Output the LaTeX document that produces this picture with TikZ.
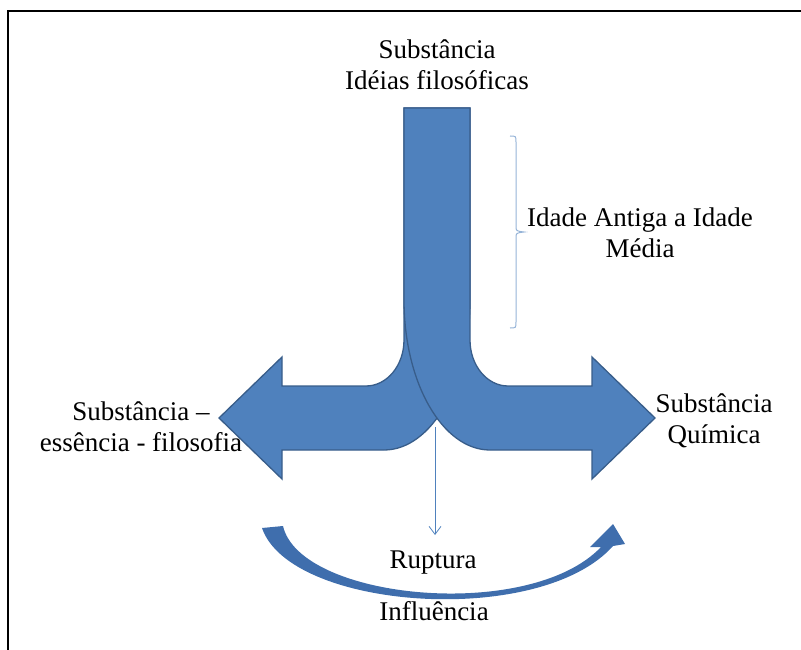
\documentclass[tikz,border=0pt]{standalone}
\usepackage{fontspec}
\setmainfont{Liberation Serif}
\usetikzlibrary{arrows.meta}
\definecolor{shapefill}{HTML}{4F81BD}
\definecolor{shapeline}{HTML}{385D8A}
\definecolor{bracecol}{HTML}{95B3D7}
\definecolor{curvefill}{HTML}{3F6EAD}
\begin{document}
\begin{tikzpicture}[x=1pt,y=-1pt,
  lbl/.style={font=\fontsize{27}{31.5}\selectfont, inner sep=0pt, align=center},
  bigarrow/.style={fill=shapefill, draw=shapeline, line width=1.3pt, line join=miter},
  thinarrow/.style={draw=shapefill, line width=0.8pt, -{Straight Barb[length=8pt,width=12pt]}},
  bracestyle/.style={draw=bracecol, line width=1pt},
  frame/.style={draw=black, line width=2pt}
]
\useasboundingbox (0,0) rectangle (801,650);
% frame
\draw[frame] (8,650) -- (8,11) -- (801,11);

% left bent arrow (behind)
\path[bigarrow] (470,108) -- (404,108) -- (404,340)
  .. controls (404,365.4) and (387,386) .. (366,386)
  -- (282,386) -- (282,357) -- (219,418) -- (282,479) -- (282,450) -- (384,450)
  .. controls (431.5,450) and (470,382.8) .. (470,300) -- cycle;

% right bent arrow (front)
\path[bigarrow] (404,108) -- (470,108) -- (470,340)
  .. controls (470,365.4) and (487,386) .. (508,386)
  -- (592,386) -- (592,357) -- (655,418) -- (592,479) -- (592,450) -- (490,450)
  .. controls (442.5,450) and (404,382.8) .. (404,300) -- cycle;

% thin arrow
\coordinate (junc) at (435,427);
\coordinate (ruptend) at (435,535);
\draw[thinarrow] (junc) -- (ruptend);

% brace
\draw[bracestyle] (510,136) .. controls (516,136) .. (516,142) -- (516,226)
  .. controls (516,231) .. (524,232) .. controls (516,233) .. (516,238)
  -- (516,322) .. controls (516,328) .. (510,328);

% curved arrow
\fill[curvefill] (262,528) .. controls (290,610) and (540,628) .. (613,546)
  -- (625,544) -- (613,524) -- (590,547) -- (601,547)
  .. controls (530,622) and (300,600) .. (283,526) -- cycle;

% labels
\node[lbl, anchor=north] (toplbl) at (437,39.5) {Substância\\Idéias filosóficas};
\node[lbl, anchor=north] (era) at (640,207.5) {Idade Antiga a Idade\\Média};
\node[lbl, anchor=north] (leftlbl) at (141,401.5) {Substância –\\essência - filosofia};
\node[lbl, anchor=north] (rightlbl) at (714,393.5) {Substância\\Química};
\node[lbl, anchor=base] (rupt) at (433,568) {Ruptura};
\node[lbl, anchor=base] (infl) at (434,620) {Influência};
\end{tikzpicture}
\end{document}
